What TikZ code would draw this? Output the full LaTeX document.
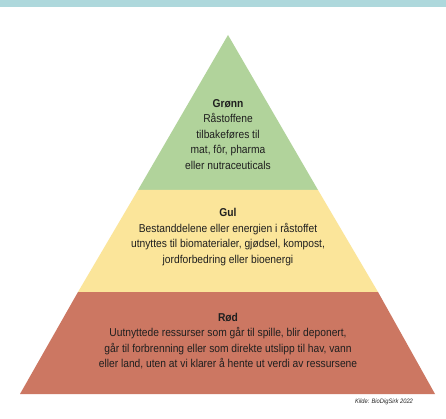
\documentclass[tikz,border=0pt]{standalone}
\usepackage{fontspec}
\setmainfont{Liberation Sans}
\newfontfamily\narrowf[FakeStretch=0.9]{Liberation Sans}
\definecolor{barc}{HTML}{AED8DC}
\definecolor{grn}{HTML}{B1D39B}
\definecolor{yel}{HTML}{FBE59A}
\definecolor{redc}{HTML}{CC7762}
\begin{document}
\begin{tikzpicture}[x=1pt,y=-1pt,
  lbl/.style={align=center,font=\narrowf\fontsize{11.4}{15.5}\selectfont,text=black!88,inner sep=0pt}]
\useasboundingbox (0,0) rectangle (446,419);
\fill[white] (0,0) rectangle (446,419);
\fill[barc] (0,0) rectangle (446,7);
\coordinate (apex) at (228,35);
\coordinate (gl) at (138,190);
\coordinate (gr) at (318,190);
\coordinate (yl) at (78,292);
\coordinate (yr) at (378,292);
\coordinate (rl) at (20,394);
\coordinate (rr) at (435,394);
\fill[grn] (apex) -- (gr) -- (gl) -- cycle;
\fill[yel] (gl) -- (gr) -- (yr) -- (yl) -- cycle;
\fill[redc] (yl) -- (yr) -- (rr) -- (rl) -- cycle;
\node[lbl,anchor=north] (tg) at (228,99) {\textbf{Grønn}\\Råstoffene\\tilbakeføres til\\mat, fôr, pharma\\eller nutraceuticals};
\node[lbl,anchor=north] (ty) at (228,208.5) {\textbf{Gul}\\Bestanddelene eller energien i råstoffet\\utnyttes til biomaterialer, gjødsel, kompost,\\jordforbedring eller bioenergi};
\node[lbl,anchor=north] (tr) at (228,313) {\textbf{Rød}\\Uutnyttede ressurser som går til spille, blir deponert,\\går til forbrenning eller som direkte utslipp til hav, vann\\eller land, uten at vi klarer å hente ut verdi av ressursene};
\node[font=\narrowf\fontsize{6.4}{7}\selectfont\itshape,text=black!85,inner sep=0pt] (src) at (384,402) {Kilde: BioDigSirk 2022};
\end{tikzpicture}
\end{document}
